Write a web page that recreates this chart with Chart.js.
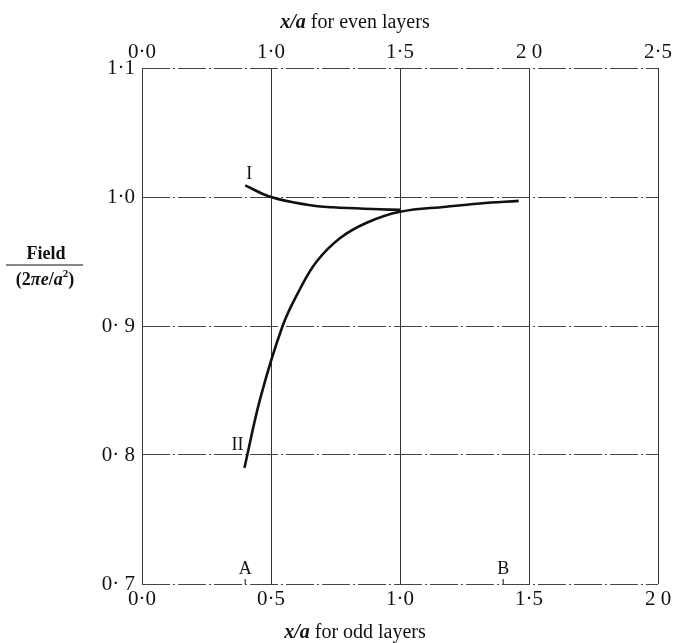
<!DOCTYPE html>
<html>
<head>
<meta charset="utf-8">
<script src="https://cdn.jsdelivr.net/npm/chart.js@4.4.1/dist/chart.umd.min.js"></script>
<style>
html, body { margin: 0; padding: 0; background: #fff; }
#wrap { width: 677px; height: 643px; }
</style>
</head>
<body>
<div id="wrap"><canvas id="fieldChart" width="677" height="643"></canvas></div>
<script>
// Curve I (x/a in odd-layer units, field)
const curveIX = [0.40, 0.50, 0.64, 0.74, 0.92, 1.00];
const curveIY = [1.009, 1.000, 0.994, 0.992, 0.9905, 0.990];

// Curve II
const curveIIX = [0.397, 0.46, 0.545, 0.612, 0.677, 0.767, 0.871, 1.00, 1.18, 1.31, 1.46];
const curveIIY = [0.790, 0.845, 0.900, 0.9285, 0.950, 0.968, 0.980, 0.9885, 0.9925, 0.995, 0.997];

// Tick labels
const oddTicks = ['0·0', '0·5', '1·0', '1·5', '2 0'];
const evenTicks = ['0·0', '1·0', '1·5', '2 0', '2·5'];
const fieldTicks = ['0· 7', '0· 8', '0· 9', '1·0', '1·1'];

// Marked positions on the odd-layer axis
const markX = [0.4, 1.4];
const markText = ['A', 'B'];
const curveNames = ['I', 'II'];

const SERIF = '"Liberation Serif", "DejaVu Serif", serif';

function toPoints(xs, ys) {
    return xs.map((x, i) => ({ x: x, y: ys[i] }));
}

// draw a run of differently styled text pieces centred on cx
function drawRich(ctx, parts, cx, y) {
    let total = 0;
    parts.forEach(p => {
        ctx.font = p.font;
        total += ctx.measureText(p.text).width;
    });
    let x = cx - total / 2;
    parts.forEach(p => {
        ctx.font = p.font;
        ctx.fillText(p.text, x, y + (p.dy || 0));
        x += ctx.measureText(p.text).width;
    });
    return total;
}

const labelsPlugin = {
    id: 'labelsPlugin',
    afterDraw(chart) {
        const ctx = chart.ctx;
        const xs = chart.scales.x;
        const ys = chart.scales.y;
        const area = chart.chartArea;
        ctx.save();
        ctx.fillStyle = '#111';
        ctx.strokeStyle = '#111';
        ctx.textAlign = 'left';
        ctx.textBaseline = 'alphabetic';

        // axis titles
        const reg = '20px ' + SERIF;
        const ital = 'italic bold 20px ' + SERIF;
        drawRich(ctx, [{ text: 'x/a', font: ital }, { text: ' for even layers', font: reg }], 355, 28);
        drawRich(ctx, [{ text: 'x/a', font: ital }, { text: ' for odd layers', font: reg }], 355, 638);

        // y axis title as a fraction
        const bold = 'bold 18px ' + SERIF;
        const boldIt = 'italic bold 18px ' + SERIF;
        drawRich(ctx, [{ text: 'Field', font: bold }], 46, 259);
        ctx.lineWidth = 1.2;
        ctx.beginPath();
        ctx.moveTo(6, 265);
        ctx.lineTo(83, 265);
        ctx.stroke();
        drawRich(ctx, [
            { text: '(2', font: bold },
            { text: 'πe', font: boldIt },
            { text: '/', font: bold },
            { text: 'a', font: boldIt },
            { text: '2', font: 'bold 11px ' + SERIF, dy: -8 },
            { text: ')', font: bold }
        ], 45, 285);

        // A and B marks on the lower axis
        ctx.font = '18px ' + SERIF;
        ctx.textAlign = 'center';
        ctx.lineWidth = 1;
        markX.forEach((v, i) => {
            const px = xs.getPixelForValue(v);
            ctx.beginPath();
            ctx.moveTo(px, area.bottom);
            ctx.lineTo(px, area.bottom - 5);
            ctx.stroke();
            ctx.fillText(markText[i], px, area.bottom - 10);
        });

        // curve names next to the start of each curve
        ctx.font = '18px ' + SERIF;
        const startI = [xs.getPixelForValue(curveIX[0]), ys.getPixelForValue(curveIY[0])];
        const startII = [xs.getPixelForValue(curveIIX[0]), ys.getPixelForValue(curveIIY[0])];
        ctx.fillText(curveNames[0], startI[0] + 4, startI[1] - 6);
        ctx.fillText(curveNames[1], startII[0] - 7, startII[1] - 18);
        ctx.restore();
    }
};

new Chart(document.getElementById('fieldChart'), {
    type: 'line',
    data: {
        datasets: [
            {
                label: 'I',
                data: toPoints(curveIX, curveIY),
                borderColor: '#111',
                borderWidth: 2.6,
                pointRadius: 0,
                tension: 0.4,
                fill: false
            },
            {
                label: 'II',
                data: toPoints(curveIIX, curveIIY),
                borderColor: '#111',
                borderWidth: 2.6,
                pointRadius: 0,
                tension: 0.4,
                fill: false
            }
        ]
    },
    options: {
        responsive: false,
        animation: false,
        layout: { padding: { left: 0, right: 19, top: 0, bottom: 0 } },
        plugins: {
            legend: { display: false },
            tooltip: { enabled: false }
        },
        scales: {
            x: {
                type: 'linear',
                position: 'bottom',
                min: 0,
                max: 2,
                ticks: {
                    stepSize: 0.5,
                    padding: 3,
                    color: '#111',
                    font: { family: SERIF, size: 21 },
                    maxRotation: 0,
                    callback: (v, i) => oddTicks[i]
                },
                grid: { color: '#333', lineWidth: 1, drawTicks: false },
                border: { display: false },
                afterFit: (s) => { s.height = 59; s.paddingLeft = 0; s.paddingRight = 0; }
            },
            x2: {
                type: 'linear',
                position: 'top',
                min: 0,
                max: 2,
                ticks: {
                    stepSize: 0.5,
                    padding: 3,
                    color: '#111',
                    font: { family: SERIF, size: 21 },
                    maxRotation: 0,
                    callback: (v, i) => evenTicks[i]
                },
                grid: { display: false, drawTicks: false },
                border: { display: false },
                afterFit: (s) => { s.height = 68; s.paddingLeft = 0; s.paddingRight = 0; }
            },
            y: {
                type: 'linear',
                min: 0.7,
                max: 1.1,
                ticks: {
                    stepSize: 0.1,
                    padding: 7,
                    color: '#111',
                    font: { family: SERIF, size: 21 },
                    callback: (v, i) => fieldTicks[i]
                },
                grid: { color: '#444', lineWidth: 1, drawTicks: false },
                border: { display: false, dash: [28, 3, 2, 3] },
                afterFit: (s) => { s.width = 142; s.paddingTop = 0; s.paddingBottom = 0; }
            }
        }
    },
    plugins: [labelsPlugin]
});
</script>
</body>
</html>
